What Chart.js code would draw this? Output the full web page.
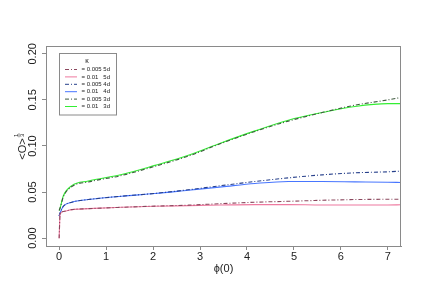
<!DOCTYPE html>
<html><head><meta charset="utf-8">
<script src="https://cdn.jsdelivr.net/npm/chart.js@4/dist/chart.umd.min.js"></script>
<style>html,body{margin:0;padding:0;background:#fff}#w{width:432px;height:300px}</style>
</head><body><div id="w"><canvas id="c" width="432" height="300"></canvas></div>
<script>
const xs = [0, 0.02, 0.09, 0.27, 0.62, 1.33, 2.04, 2.75, 3.46, 4.17, 4.88, 5.6, 6.3, 7.0, 7.28];
const k005_5d = [0.000, 0.026, 0.029, 0.031, 0.032, 0.0335, 0.0348, 0.0358, 0.0375, 0.039, 0.040, 0.0411, 0.0419, 0.0422, 0.0423];
const k01_5d  = [0.000, 0.026, 0.029, 0.031, 0.032, 0.0335, 0.0346, 0.0353, 0.036, 0.0364, 0.0364, 0.036, 0.036, 0.036, 0.0362];
const k005_4d = [0.024, 0.0273, 0.0346, 0.039, 0.0419, 0.0455, 0.0486, 0.0525, 0.0571, 0.0615, 0.0654, 0.0687, 0.0709, 0.072, 0.0727];
const k01_4d  = [0.024, 0.0273, 0.0346, 0.039, 0.0419, 0.0455, 0.0484, 0.052, 0.0556, 0.0593, 0.0615, 0.0615, 0.0611, 0.0607, 0.0604];
const k005_3d = [0.030, 0.0327, 0.045, 0.056, 0.061, 0.068, 0.078, 0.089, 0.103, 0.1158, 0.127, 0.1363, 0.1443, 0.150, 0.1527];
const k01_3d  = [0.030, 0.0327, 0.046, 0.057, 0.062, 0.069, 0.079, 0.0899, 0.1036, 0.1164, 0.128, 0.1363, 0.1429, 0.146, 0.146];
const seriesLabels = ['= 0.005 5d', '= 0.01   5d', '= 0.005 4d', '= 0.01   4d', '= 0.005 3d', '= 0.01   3d'];
const xTicks = [0, 1, 2, 3, 4, 5, 6, 7];
const yTicks = [0.00, 0.05, 0.10, 0.15, 0.20];
const yTickLabels = ['0.00', '0.05', '0.10', '0.15', '0.20'];

const seriesVals = [k005_5d, k01_5d, k005_4d, k01_4d, k005_3d, k01_3d];
const colors = ['#8B475D', '#EE799F', '#27408B', '#4876FF', '#3F5A3F', '#33EE33'];
const dashes = [[4,2,1,2], [], [4,2,1,2], [], [4,2,1,2], []];
const FONT = '"Liberation Sans", Arial, sans-serif';

const datasets = seriesVals.map((v, i) => ({
  label: seriesLabels[i],
  data: v.map((y, j) => ({x: xs[j], y: y})),
  borderColor: colors[i],
  borderWidth: 1.1,
  borderDash: dashes[i],
  pointRadius: 0,
  fill: false,
  cubicInterpolationMode: 'monotone'
}));

const gray = '#8a8a8a';
const deco = {
  id: 'deco',
  afterDraw(chart) {
    const ctx = chart.ctx, a = chart.chartArea, ys = chart.scales.y;
    ctx.save();
    // frame
    ctx.strokeStyle = gray; ctx.lineWidth = 1;
    ctx.strokeRect(a.left + 0.5, a.top + 0.5, a.right - a.left - 1, a.bottom - a.top);
    // y tick labels rotated
    ctx.fillStyle = '#222';
    ctx.font = '11px ' + FONT;
    ctx.textAlign = 'center'; ctx.textBaseline = 'middle';
    yTicks.forEach((v, i) => {
      const py = ys.getPixelForValue(v);
      ctx.save(); ctx.translate(33, py); ctx.rotate(-Math.PI / 2);
      ctx.fillText(yTickLabels[i], 0, 0); ctx.restore();
    });
    // x axis title
    ctx.textAlign = 'center'; ctx.textBaseline = 'middle';
    ctx.fillText('\u03D5(0)', (a.left + a.right) / 2, 269);
    // y axis title  <O>^(1/3)
    ctx.save();
    ctx.translate(22, (a.top + a.bottom) / 2);
    ctx.rotate(-Math.PI / 2);
    ctx.font = '11px ' + FONT;
    ctx.textAlign = 'left'; ctx.textBaseline = 'middle';
    const w = ctx.measureText('<O>').width;
    const x0 = -(w + 6) / 2;
    ctx.fillText('<O>', x0, 1);
    ctx.font = '6px ' + FONT;
    ctx.textAlign = 'center';
    const fx = x0 + w + 3;
    ctx.fillText('1', fx, -6);
    ctx.fillText('3', fx, 0);
    ctx.strokeStyle = '#222'; ctx.lineWidth = 0.6;
    ctx.beginPath(); ctx.moveTo(fx - 2, -3); ctx.lineTo(fx + 2, -3); ctx.stroke();
    ctx.restore();
    // legend
    const lx = 59.5, ly = 53.5, lw = 57, lh = 61.5;
    ctx.fillStyle = '#fff';
    ctx.fillRect(lx, ly, lw, lh);
    ctx.strokeStyle = gray; ctx.lineWidth = 1;
    ctx.strokeRect(lx, ly, lw, lh);
    ctx.fillStyle = '#222';
    ctx.font = '7px ' + FONT;
    ctx.textAlign = 'center'; ctx.textBaseline = 'middle';
    ctx.fillText('\u03BA', 87, 61);
    ctx.font = '6px ' + FONT;
    ctx.textAlign = 'left';
    chart.data.datasets.forEach((d, i) => {
      const yy = 69.5 + 7.4 * i;
      ctx.strokeStyle = d.borderColor; ctx.lineWidth = 1;
      ctx.setLineDash(d.borderDash || []);
      ctx.beginPath(); ctx.moveTo(65, yy); ctx.lineTo(77, yy); ctx.stroke();
      ctx.setLineDash([]);
      ctx.fillStyle = '#222';
      ctx.fillText(d.label, 81.5, yy);
    });
    ctx.restore();
  }
};

new Chart(document.getElementById('c'), {
  type: 'line',
  data: { datasets },
  options: {
    responsive: false,
    animation: false,
    layout: { padding: { left: 0, top: 46, right: 31, bottom: 0 } },
    plugins: { legend: { display: false }, tooltip: { enabled: false } },
    scales: {
      x: {
        type: 'linear', min: -0.28, max: 7.28,
        afterBuildTicks: s => { s.ticks = xTicks.map(v => ({ value: v })); },
        afterFit: s => { s.height = 54; },
        grid: { display: true, drawOnChartArea: false, drawTicks: true, tickLength: 4, color: gray },
        border: { display: true, color: gray },
        ticks: { font: { size: 11, family: FONT }, color: '#222', padding: 0, maxRotation: 0, callback: v => String(v) },
        title: { display: false }
      },
      y: {
        type: 'linear', min: -0.0085, max: 0.2085,
        afterBuildTicks: s => { s.ticks = yTicks.map(v => ({ value: v })); },
        afterFit: s => { s.width = 46; },
        grid: { display: true, drawOnChartArea: false, drawTicks: true, tickLength: 4, color: gray },
        border: { display: true, color: gray },
        ticks: { color: 'rgba(0,0,0,0)', font: { size: 11, family: FONT } }
      }
    }
  },
  plugins: [deco]
});
</script>
</body></html>
